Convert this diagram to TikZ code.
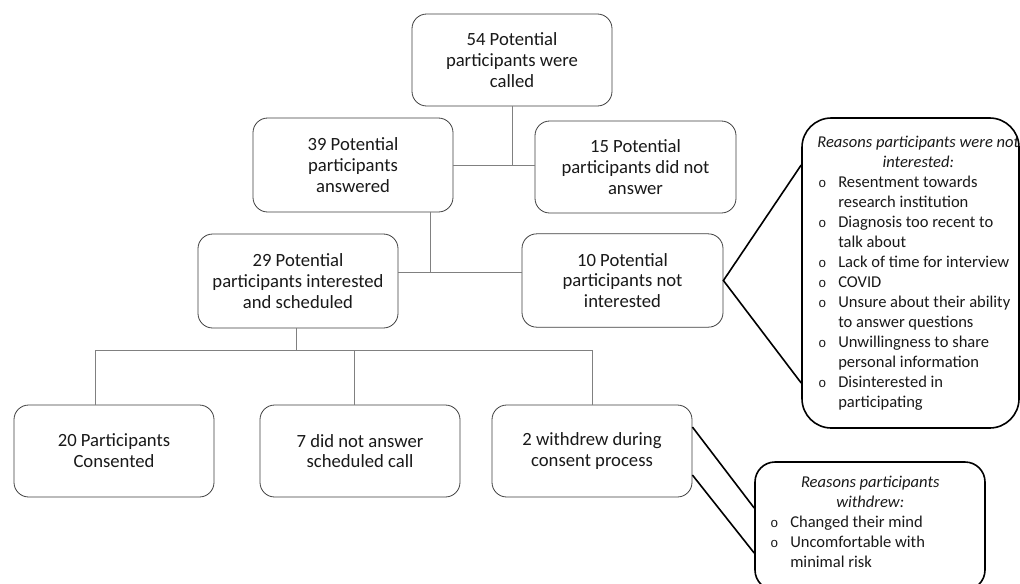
\documentclass[tikz,border=0pt]{standalone}
\usepackage{fontspec}
\setmainfont{Carlito}
\newfontfamily\bulletfont{Liberation Mono}
\newcommand{\rsitem}[1]{\par\hangindent=15pt\hangafter=1\noindent\makebox[15pt][l]{\bulletfont\fontsize{10}{15}\selectfont o}#1}
\newcommand{\rstitle}[1]{\noindent\makebox[\linewidth][c]{\itshape #1}\par}
\begin{document}
\begin{tikzpicture}[x=0.75pt,y=-0.75pt,
  box/.style={draw=black!75, line width=0.6pt, rounded corners=11pt, minimum width=150pt, minimum height=69pt, align=center, inner sep=2pt, font=\fontsize{14}{15.6}\selectfont, text=black!90},
  conn/.style={draw=black!50, line width=0.6pt},
  callout/.style={draw=black, line width=1.2pt},
  cline/.style={draw=black, line width=1.2pt},
  ctext/.style={anchor=base west, inner sep=0pt, font=\fontsize{12.4}{15}\selectfont, text=black!90}]
\useasboundingbox (0,0) rectangle (1020,583);
\fill[white] (0,0) rectangle (1020,583);

% main boxes
\node[box] (top) at (512,60) {54 Potential\\participants were\\called};
\node[box, minimum height=70.5pt] (ans) at (353,165) {39 Potential\\participants\\answered};
\node[box, minimum width=150.75pt] (noans) at (635.5,167) {15 Potential\\participants did not\\answer};
\node[box, minimum height=70.5pt] (int) at (298,281) {29 Potential\\participants interested\\and scheduled};
\node[box, minimum width=150.75pt, minimum height=70pt] (notint) at (622.5,280.5) {10 Potential\\participants not\\interested};
\node[box] (cons) at (114,451) {20 Participants\\Consented};
\node[box] (noshow) at (360,451) {7 did not answer\\scheduled call};
\node[box] (wd) at (592,451) {2 withdrew during\\consent process};

% callouts
\node[callout, rounded corners=22pt, minimum width=162.75pt, minimum height=232.5pt] (r1) at (910.5,273) {};
\node[ctext] (r1t) at (818,147) {\parbox[t]{150pt}{\rstitle{Reasons participants were not}
  \rstitle{interested:}
  \raggedright
  \rsitem{Resentment towards\newline research institution}
  \rsitem{Diagnosis too recent to\newline talk about}
  \rsitem{Lack of time for interview}
  \rsitem{COVID}
  \rsitem{Unsure about their ability\newline to answer questions}
  \rsitem{Unwillingness to share\newline personal information}
  \rsitem{Disinterested in\newline participating}}};

\node[callout, rounded corners=15pt, minimum width=172.5pt, minimum height=96pt] (r2) at (870,526) {};
\node[ctext] (r2t) at (770,487) {\parbox[t]{150pt}{\rstitle{Reasons participants}
  \rstitle{withdrew:}
  \raggedright
  \rsitem{Changed their mind}
  \rsitem{Uncomfortable with\newline minimal risk}}};

% connectors
\coordinate (j2) at (430,272);
\coordinate (j3) at (296,350);
\coordinate (b1) at (95,350);
\coordinate (b2) at (354,350);
\coordinate (b3) at (592,350);
\draw[conn] (top.south) -- (top.south |- ans.east);
\draw[conn] (ans.east) -- (noans.west |- ans.east);
\draw[conn] (ans.south -| j2) -- (j2);
\draw[conn] (int.east |- j2) -- (notint.west |- j2);
\draw[conn] (int.south -| j3) -- (j3);
\draw[conn] (b1) -- (b3);
\draw[conn] (b1) -- (b1 |- cons.north);
\draw[conn] (b2) -- (b2 |- noshow.north);
\draw[conn] (b3) -- (wd.north);

% callout lines
\coordinate (c1) at (802,165);
\coordinate (c2) at (802,383);
\draw[cline] (c1 -| r1.west) -- (notint.east) -- (c2 -| r1.west);
\coordinate (w1) at (692,427);
\coordinate (w2) at (692,475);
\coordinate (w3) at (755,508);
\coordinate (w4) at (755,553);
\draw[cline] (w1 -| wd.east) -- (w3 -| r2.west);
\draw[cline] (w2 -| wd.east) -- (w4 -| r2.west);
\end{tikzpicture}
\end{document}
